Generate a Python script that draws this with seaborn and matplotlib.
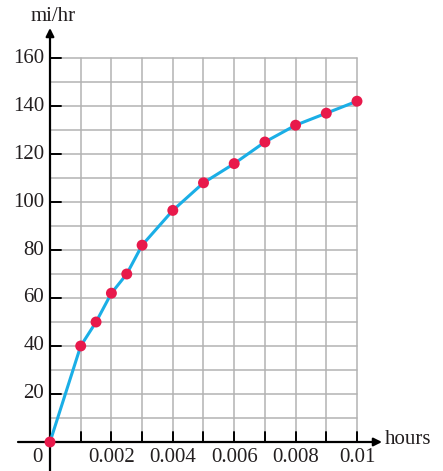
import matplotlib
matplotlib.use("Agg")
import matplotlib.pyplot as plt
import seaborn as sns
import pandas as pd
import numpy as np

# Data
hours = [0.0, 0.001, 0.0015, 0.002, 0.0025, 0.003, 0.004, 0.005, 0.006, 0.007, 0.008, 0.009, 0.01]
speed = [0, 40, 50, 62, 70, 82, 96.5, 108, 116, 125, 132, 137, 142]
x_tick_labels = ["0.002", "0.004", "0.006", "0.008", "0.01"]
x_tick_vals = [0.002, 0.004, 0.006, 0.008, 0.01]
y_tick_vals = [20, 40, 60, 80, 100, 120, 140, 160]
y_tick_labels = ["20", "40", "60", "80", "100", "120", "140", "160"]

df = pd.DataFrame({"hours": hours, "speed": speed})

sns.set_style("white")
plt.rcParams["font.family"] = ["Liberation Serif", "DejaVu Serif"]

W, H = 443, 471
fig = plt.figure(figsize=(W / 100, H / 100), dpi=100)
ax = fig.add_axes([0, 0, 1, 1])

# pixel mapping: x0 at px 50, 0.001 per 30.7 px; y0 at px 442, 2.4 px per unit
px_per_x = 30700.0
px_per_y = 2.4
x0_px, y0_px = 50.0, 442.0
ax.set_xlim(-x0_px / px_per_x, (W - x0_px) / px_per_x)
ax.set_ylim(-(H - y0_px) / px_per_y, y0_px / px_per_y)
ax.axis("off")

grid_c = "#b3b3b3"
# grid
for gx in np.arange(1, 11) * 0.001:
    ax.plot([gx, gx], [0, 160], color=grid_c, lw=1.1, zorder=1)
for gy in np.arange(10, 161, 10):
    ax.plot([0, 0.01], [gy, gy], color=grid_c, lw=1.1, zorder=1)

# axes with arrows
xl0 = (18 - x0_px) / px_per_x
xl1 = (382 - x0_px) / px_per_x
ax.annotate("", xy=(xl1, 0), xytext=(xl0, 0),
            arrowprops=dict(arrowstyle="-|>", color="black", lw=1.6,
                            mutation_scale=12, shrinkA=0, shrinkB=0), zorder=3)
yb = -(H - y0_px) / px_per_y
yt = (y0_px - 28) / px_per_y
ax.annotate("", xy=(0, yt), xytext=(0, yb),
            arrowprops=dict(arrowstyle="-|>", color="black", lw=1.6,
                            mutation_scale=12, shrinkA=0, shrinkB=0), zorder=3)

# ticks
ytick_len = 11 / px_per_x
for v in y_tick_vals:
    ax.plot([0, ytick_len], [v, v], color="black", lw=1.4, zorder=3)
xtick_len = 10 / px_per_y
for v in np.arange(1, 11) * 0.001:
    ax.plot([v, v], [0, xtick_len], color="black", lw=1.4, zorder=3)

fs = 15
tc = "#231f20"
for v, lab in zip(y_tick_vals, y_tick_labels):
    ax.text(-6 / px_per_x, v, lab, ha="right", va="center", fontsize=fs, color=tc)
for v, lab in zip(x_tick_vals, x_tick_labels):
    ax.text(v, -16 / px_per_y, lab, ha="center", va="center", fontsize=fs, color=tc)
ax.text(-13 / px_per_x, -16 / px_per_y, "0", ha="center", va="center", fontsize=fs, color=tc)
ax.text(3 / px_per_x, (y0_px - 16) / px_per_y, "mi/hr", ha="center", va="center", fontsize=fs, color=tc)
ax.text((385 - x0_px) / px_per_x, 3 / px_per_y, "hours", ha="left", va="center", fontsize=fs, color=tc)

# data
sns.lineplot(data=df, x="hours", y="speed", ax=ax, color="#1aaee6", lw=2.2,
             zorder=4, legend=False)
sns.scatterplot(data=df, x="hours", y="speed", ax=ax, color="#e8194b", s=62,
                edgecolor="none", zorder=5, legend=False)
ax.set_xlim(-x0_px / px_per_x, (W - x0_px) / px_per_x)
ax.set_ylim(-(H - y0_px) / px_per_y, y0_px / px_per_y)
ax.axis("off")

fig.savefig("out.png", dpi=100)
